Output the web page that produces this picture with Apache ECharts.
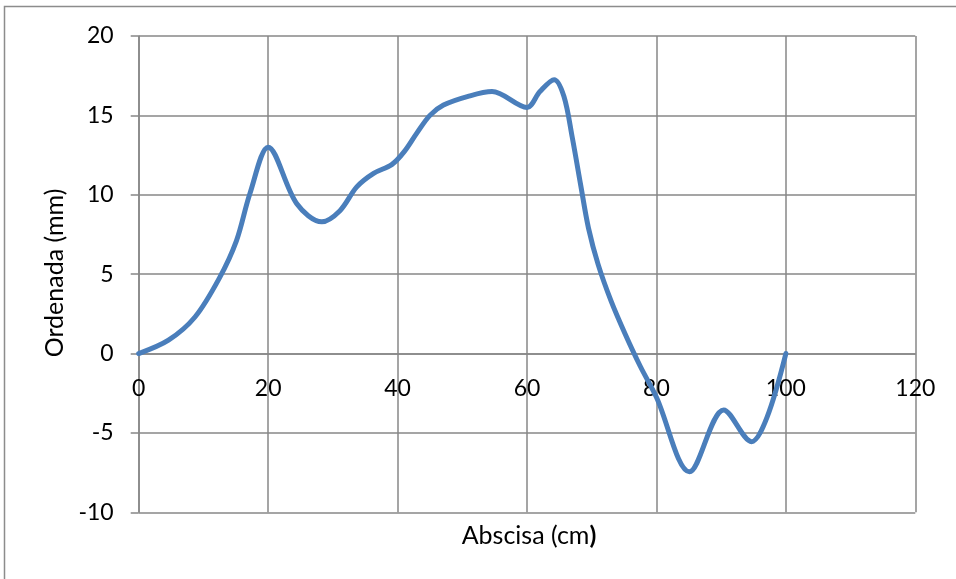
<!DOCTYPE html>
<html>
<head>
<meta charset="utf-8">
<script src="https://cdn.jsdelivr.net/npm/echarts@6/dist/echarts.min.js"></script>
<style>
html,body{margin:0;padding:0;background:#fff;}
#chart{width:956px;height:579px;}
</style>
</head>
<body>
<div id="chart"></div>
<script>
// Data
const xValues = [0, 4.6, 8.7, 12.4, 15.1, 17.2, 20, 24.4, 28.3, 31.1, 33.7, 36.3, 39.1, 41, 43, 45, 47.1, 50.9, 54.6, 60, 62, 64.2, 65.7, 67, 68.3, 69.5, 71, 73, 75.2, 77.5, 80, 85.1, 90.4, 94.7, 97.1, 100];
const yValues = [0, 0.84, 2.3, 4.7, 7.1, 10.1, 13.0, 9.45, 8.3, 9.0, 10.5, 11.35, 11.9, 12.7, 13.9, 15.0, 15.65, 16.2, 16.5, 15.5, 16.5, 17.25, 16.2, 13.6, 10.6, 7.9, 5.6, 3.3, 1.2, -0.8, -2.75, -7.45, -3.55, -5.55, -4.0, 0];
const xTicks = [0, 20, 40, 60, 80, 100, 120];
const yTicks = [-10, -5, 0, 5, 10, 15, 20];
const xTitle = 'Abscisa (cm';
const xTitleEnd = ')';
const yTitle = 'Ordenada (mm)';

const FONT = 'Lato';
const GRID = '#878787';

const chart = echarts.init(document.getElementById('chart'), null, {renderer: 'canvas'});
const seriesData = xValues.map((x, i) => [x, yValues[i]]);

const gridTop = 36, gridBottom = 66.7, chartH = 579;
const yMin = yTicks[0], yMax = yTicks[yTicks.length - 1];
const plotH = chartH - gridTop - gridBottom;
// move the x axis up so it sits on the y = 0 line (as in the reference)
const xAxisOffset = -plotH * (0 - yMin) / (yMax - yMin);

chart.setOption({
  animation: false,
  backgroundColor: '#ffffff',
  grid: {left: 138.7, right: 40.7, top: gridTop, bottom: gridBottom, containLabel: false},
  xAxis: {
    type: 'value',
    position: 'bottom',
    offset: xAxisOffset,
    min: xTicks[0], max: xTicks[xTicks.length - 1], interval: 20,
    axisLine: {show: true, onZero: false, lineStyle: {color: GRID, width: 1.5}},
    axisTick: {show: false},
    axisLabel: {color: '#000', fontFamily: FONT, fontSize: 23, margin: 24},
    splitLine: {show: true, lineStyle: {color: GRID, width: 1.5}}
  },
  yAxis: {
    type: 'value',
    min: yMin, max: yMax, interval: 5,
    axisLine: {show: true, onZero: false, lineStyle: {color: GRID, width: 1.5}},
    axisTick: {show: true, inside: false, length: 8, lineStyle: {color: GRID, width: 1.5}},
    axisLabel: {color: '#000', fontFamily: FONT, fontSize: 23, margin: 25},
    splitLine: {show: true, lineStyle: {color: GRID, width: 1.5}}
  },
  series: [{
    type: 'line',
    data: seriesData,
    smooth: 0.33,
    showSymbol: false,
    lineStyle: {color: '#4A7EBB', width: 5, cap: 'round', join: 'round'},
    itemStyle: {color: '#4A7EBB'}
  }],
  graphic: [
    {
      type: 'rect', silent: true, z: -1,
      shape: {x: 4.5, y: 6.5, width: 1200, height: 1200},
      style: {fill: null, stroke: '#8c8c8c', lineWidth: 1.5}
    },
    {
      type: 'text', silent: true,
      x: 529, y: 536,
      style: {
        text: xTitle + '{b|' + xTitleEnd + '}',
        rich: {b: {fontWeight: 'bold', fontFamily: FONT, fontSize: 25, fill: '#000'}},
        fontFamily: FONT, fontSize: 25, fill: '#000',
        align: 'center', verticalAlign: 'middle'
      }
    },
    {
      type: 'text', silent: true,
      x: 55, y: 273, rotation: Math.PI / 2,
      style: {
        text: yTitle,
        fontFamily: FONT, fontSize: 25, fill: '#000',
        align: 'center', verticalAlign: 'middle'
      }
    }
  ]
});
</script>
</body>
</html>
